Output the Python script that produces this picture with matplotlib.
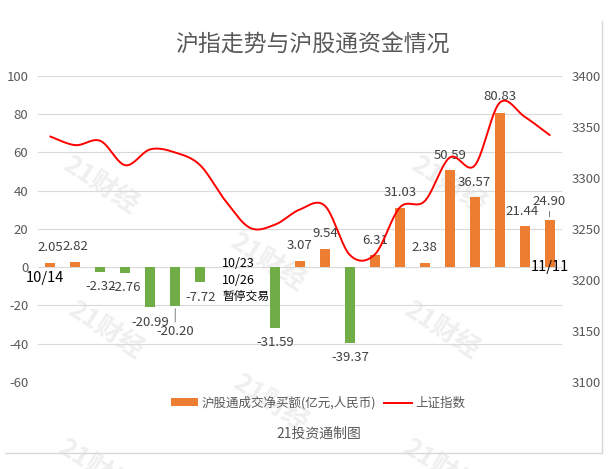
import numpy as np
import matplotlib
matplotlib.use("Agg")
import matplotlib.pyplot as plt
from matplotlib.patches import Patch
from matplotlib.lines import Line2D

plt.rcParams['font.family'] = ['Noto Sans CJK SC', 'DejaVu Sans']

# ---------------- data ----------------
dates = ["10/14", "10/15", "10/16", "10/19", "10/20", "10/21", "10/22", "10/23", "10/26",
         "10/27", "10/28", "10/29", "10/30", "11/2", "11/3", "11/4", "11/5", "11/6",
         "11/9", "11/10", "11/11"]
net_buy = [2.05, 2.82, -2.32, -2.76, -20.99, -20.20, -7.72, np.nan, np.nan,
           -31.59, 3.07, 9.54, -39.37, 6.31, 31.03, 2.38, 50.59, 36.57,
           80.83, 21.44, 24.90]
sh_index = [3340.6, 3332.2, 3336.4, 3312.5, 3328.1, 3325.0, 3312.5, 3278.0, 3251.1,
            3254.3, 3269.2, 3272.7, 3224.5, 3225.1, 3271.1, 3277.4, 3320.1, 3312.2,
            3373.7, 3360.1, 3342.2]
left_ticks = [-60, -40, -20, 0, 20, 40, 60, 80, 100]
right_ticks = [3100, 3150, 3200, 3250, 3300, 3350, 3400]

title = "沪指走势与沪股通资金情况"
legend_bar = "沪股通成交净买额(亿元,人民币)"
legend_line = "上证指数"
source = "21投资通制图"
watermark = "21财经"

# ---------------- styles ----------------
ORANGE = "#ED7D31"
GREEN = "#70AD47"
RED = "#FF0000"
GRID = "#D9D9D9"
TICK = "#595959"
LABEL = "#404040"

W, H = 610, 469
fig = plt.figure(figsize=(W / 100, H / 100), dpi=100)
fig.patch.set_facecolor("white")

def fx(px):
    return px / W

def fy(py):
    return 1 - py / H

ax = fig.add_axes([fx(38), fy(382), fx(562) - fx(38), fy(76) - fy(382)])
ax.set_facecolor("none")
ax2 = ax.twinx()

x = np.arange(len(dates))
vals = np.array(net_buy, dtype=float)
colors = [ORANGE if (not np.isnan(v) and v >= 0) else GREEN for v in vals]
ax.bar(x, np.nan_to_num(vals), width=0.4, color=colors, zorder=2)

ax.set_xlim(-0.5, len(dates) - 0.5)
ax.set_ylim(-60, 100)
ax.set_yticks(left_ticks)
ax.set_yticklabels([str(t) for t in left_ticks])
ax.set_xticks([])
ax.grid(axis="y", color=GRID, linewidth=0.8, zorder=0)
ax.set_axisbelow(True)
for s in ax.spines.values():
    s.set_visible(False)
ax.tick_params(axis="y", length=0, pad=7, labelsize=9.5, labelcolor=TICK)

# data labels
px_per_pt = 100 / 72
offsets = {5: 26, 20: 18, 0: 16, 10: 16, 11: 16, 18: 16}
dx_off = {19: -2}
for i, v in enumerate(vals):
    if np.isnan(v):
        continue
    off = offsets.get(i, 15)
    sign = 1 if v >= 0 else -1
    ax.annotate(f"{v:.2f}", xy=(i, v), xytext=(dx_off.get(i, 0) / px_per_pt, sign * off / px_per_pt),
                textcoords="offset points", ha="center", va="center",
                fontsize=9.5, color=LABEL, zorder=5)
    if off >= 18:
        ax.annotate("", xy=(i, v), xytext=(0, sign * (off - 7) / px_per_pt),
                    textcoords="offset points",
                    arrowprops=dict(arrowstyle="-", color="#7F7F7F", lw=0.7))

# annotations
ax.annotate(dates[0], xy=(0, 0), xytext=(-6 / px_per_pt, -11 / px_per_pt), textcoords="offset points",
            ha="center", va="center", fontsize=10.5, color="black")
ax.annotate(dates[-1], xy=(len(dates) - 1, 0), xytext=(0, 0), textcoords="offset points",
            ha="center", va="center", fontsize=10.5, color="black", zorder=6)
ax.annotate(dates[7], xy=(7, 0), xytext=(-3 / px_per_pt, 4 / px_per_pt), textcoords="offset points",
            ha="left", va="center", fontsize=9, color="black")
ax.annotate(dates[8], xy=(7, 0), xytext=(-3 / px_per_pt, -13 / px_per_pt), textcoords="offset points",
            ha="left", va="center", fontsize=9, color="black")
ax.annotate("暂停交易", xy=(7, 0), xytext=(-3 / px_per_pt, -29 / px_per_pt), textcoords="offset points",
            ha="left", va="center", fontsize=8.5, color="black")

# smoothed index line (Catmull-Rom style bezier like Excel smoothing)
pts = np.column_stack([x.astype(float), np.array(sh_index, dtype=float)])
ext = np.vstack([pts[0], pts, pts[-1]])
curve = []
t = np.linspace(0, 1, 25)[:, None]
for i in range(len(pts) - 1):
    p0, p1, p2, p3 = ext[i], ext[i + 1], ext[i + 2], ext[i + 3]
    b1 = p1 + (p2 - p0) / 6
    b2 = p2 - (p3 - p1) / 6
    seg = ((1 - t) ** 3) * p1 + 3 * ((1 - t) ** 2) * t * b1 + 3 * (1 - t) * t ** 2 * b2 + t ** 3 * p2
    curve.append(seg if i == 0 else seg[1:])
curve = np.vstack(curve)
ax2.plot(curve[:, 0], curve[:, 1], color=RED, lw=1.4, zorder=4)
ax2.set_ylim(3100, 3400)
ax2.set_yticks(right_ticks)
ax2.set_yticklabels([str(t) for t in right_ticks])
for s in ax2.spines.values():
    s.set_visible(False)
ax2.tick_params(axis="y", length=0, pad=7, labelsize=9.5, labelcolor=TICK)

# title, legend, source
fig.text(fx(312), fy(45), title, ha="center", va="center", fontsize=16.5, color=TICK)
handles = [Patch(facecolor=ORANGE, edgecolor="none"), Line2D([0], [0], color=RED, lw=1.4)]
fig.legend(handles, [legend_bar, legend_line], loc="center", bbox_to_anchor=(fx(318), fy(403)),
           ncol=2, frameon=False, fontsize=9, handlelength=2.2, handleheight=0.6,
           handletextpad=0.3, columnspacing=0.6, labelcolor=TICK)
fig.text(fx(319), fy(434), source, ha="center", va="center", fontsize=10, color=TICK)

# border
fig.add_artist(Line2D([fx(602), fx(602)], [fy(21), fy(453)], color=GRID, lw=1))
fig.add_artist(Line2D([fx(5), fx(602)], [fy(453), fy(453)], color=GRID, lw=1))

# watermarks
for (wx, wy) in [(100, 185), (448, 185), (267, 262), (105, 330), (441, 330),
                 (270, 403), (95, 468), (440, 468)]:
    fig.text(fx(wx), fy(wy), watermark, ha="center", va="center", rotation=-33,
             fontsize=19, fontweight="bold", color="#EFEFEF", zorder=-5)

fig.savefig("out.png", dpi=100)
